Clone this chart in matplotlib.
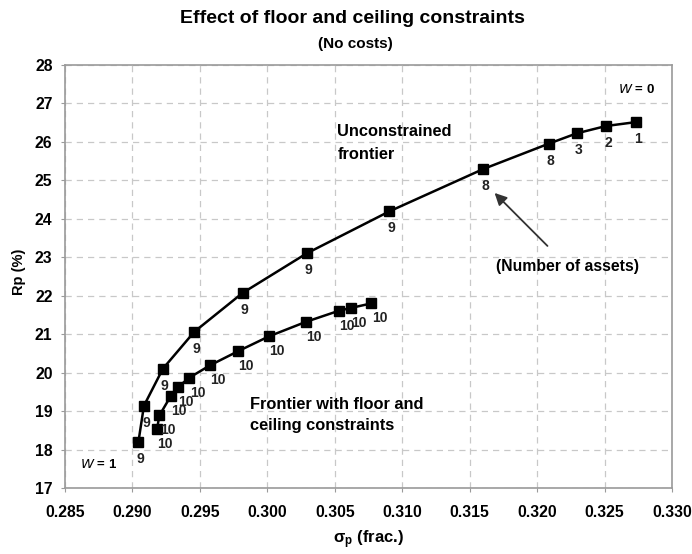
import matplotlib
matplotlib.use('Agg')
import matplotlib.pyplot as plt

plt.rcParams['font.family'] = ['Liberation Sans', 'DejaVu Sans']

# unconstrained frontier
unc_sigma = [0.29044, 0.29085, 0.29225, 0.29458, 0.29816, 0.30292, 0.30904,
             0.31600, 0.32086, 0.32295, 0.32512, 0.32730]
unc_ret = [18.20, 19.14, 20.10, 21.06, 22.07, 23.10, 24.19,
           25.29, 25.95, 26.22, 26.41, 26.51]
unc_labels = ['9', '9', '9', '9', '9', '9', '9', '8', '8', '3', '2', '1']

# frontier with floor and ceiling constraints
con_sigma = [0.29182, 0.29200, 0.29282, 0.29336, 0.29422, 0.29575, 0.29779,
             0.30010, 0.30286, 0.30532, 0.30618, 0.30772]
con_ret = [18.54, 18.89, 19.38, 19.62, 19.87, 20.19, 20.55,
           20.94, 21.32, 21.61, 21.68, 21.80]
con_labels = ['10'] * 12

fig = plt.figure(figsize=(6.92, 5.54), dpi=100)
ax = fig.add_axes([0.094, 0.119, 0.877, 0.764])

ax.plot(unc_sigma, unc_ret, color='black', lw=1.8, marker='s', ms=7.5, zorder=3)
ax.plot(con_sigma, con_ret, color='black', lw=1.8, marker='s', ms=7.5, zorder=3)

for x, y, s in zip(unc_sigma, unc_ret, unc_labels):
    ax.annotate(s, (x, y), xytext=(2, -17), textcoords='offset pixels',
                ha='center', va='center', fontsize=10, fontweight='bold', color='#222222')

for x, y, s in zip(con_sigma, con_ret, con_labels):
    ax.annotate(s, (x, y), xytext=(8, -15), textcoords='offset pixels',
                ha='center', va='center', fontsize=10, fontweight='bold', color='#222222')

ax.set_xlim(0.285, 0.330)
ax.set_ylim(17, 28)
ax.set_xticks([0.285, 0.290, 0.295, 0.300, 0.305, 0.310, 0.315, 0.320, 0.325, 0.330])
ax.set_xticklabels(['0.285', '0.290', '0.295', '0.300', '0.305', '0.310',
                    '0.315', '0.320', '0.325', '0.330'])
ax.set_yticks(range(17, 29))
ax.grid(True, ls=(0, (5, 4)), color='#c8c8c8', lw=0.9)
ax.set_axisbelow(True)
for sp in ax.spines.values():
    sp.set_color('#9a9a9a')
    sp.set_linewidth(1.2)
ax.tick_params(axis='both', length=3, color='#9a9a9a', labelsize=11.3)
ax.tick_params(axis='y', pad=6)
ax.tick_params(axis='x', pad=9)
for lab in ax.get_xticklabels() + ax.get_yticklabels():
    lab.set_fontweight('bold')

ax.set_xlabel(r'$\mathregular{\sigma_p}$ (frac.)', fontsize=12, fontweight='bold', labelpad=6)
fig.text(0.028, 0.51, 'Rp (%)', rotation=90, fontsize=10.5, fontweight='bold',
         ha='center', va='center')

fig.text(0.51, 0.967, 'Effect of floor and ceiling constraints', fontsize=14,
         fontweight='bold', ha='center', va='center')
fig.text(0.513, 0.920, '(No costs)', fontsize=11, fontweight='bold',
         ha='center', va='center')

ax.text(0.3052, 25.97, 'Unconstrained\nfrontier', fontsize=11.8, fontweight='bold',
        ha='left', va='center', linespacing=1.65)
ax.text(0.2987, 18.9, 'Frontier with floor and\nceiling constraints', fontsize=11.8,
        fontweight='bold', ha='left', va='center', linespacing=1.45)
ax.annotate('(Number of assets)', xy=(0.31685, 24.67), xytext=(0.32226, 22.77),
            fontsize=11.3, fontweight='bold', ha='center', va='center',
            arrowprops=dict(arrowstyle='-|>', color='#333333', lw=1.3,
                            mutation_scale=18, shrinkA=10, shrinkB=0))
ax.text(0.3274, 27.35, r'$\mathit{W}$ = 0', fontsize=9.5, fontweight='bold',
        ha='center', va='center')
ax.text(0.2875, 17.6, r'$\mathit{W}$ = 1', fontsize=9.5, fontweight='bold',
        ha='center', va='center')

fig.savefig('out.png', dpi=100)
